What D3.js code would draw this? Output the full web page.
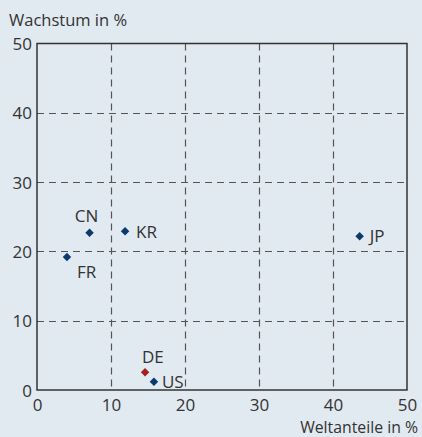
<!DOCTYPE html>
<html><head><meta charset="utf-8">
<script src="https://cdn.jsdelivr.net/npm/d3@7"></script>
<style>
html,body{margin:0;padding:0;background:#e1e9f1;}
svg{display:block;font-family:"Open Sans",sans-serif;}
</style></head>
<body>
<svg id="chart" width="422" height="437"></svg>
<script>
const countries = ["CN","KR","FR","JP","DE","US"];
const worldShare = [7.1, 11.9, 4.05, 43.6, 14.6, 15.8];
const growth = [22.7, 22.9, 19.2, 22.2, 2.55, 1.2];
const xTicks = [0,10,20,30,40,50];
const yTicks = [0,10,20,30,40,50];
const highlight = ["DE"];

const svg = d3.select("#chart");
const m = {left:37, right:407, top:43.5, bottom:390};
const x = d3.scaleLinear().domain([0,50]).range([m.left, m.right]);
const y = d3.scaleLinear().domain([0,50]).range([m.bottom, m.top]);

// dashed grid
const grid = svg.append("g").attr("stroke","#555").attr("stroke-width",1.2).attr("stroke-dasharray","7,5");
grid.selectAll(".gx").data(xTicks.slice(1,-1)).join("line")
  .attr("x1",d=>Math.round(x(d))+0.5).attr("x2",d=>Math.round(x(d))+0.5)
  .attr("y1",m.top).attr("y2",m.bottom);
grid.selectAll(".gy").data(yTicks.slice(1,-1)).join("line")
  .attr("y1",d=>Math.round(y(d))+0.5).attr("y2",d=>Math.round(y(d))+0.5)
  .attr("x1",m.left).attr("x2",m.right);

// frame
svg.append("rect").attr("x",m.left).attr("y",m.top)
  .attr("width",m.right-m.left).attr("height",m.bottom-m.top)
  .attr("fill","none").attr("stroke","#333").attr("stroke-width",1.5);

// axes (labels only)
const xAxis = svg.append("g").attr("transform",`translate(0,${m.bottom})`)
  .call(d3.axisBottom(x).tickValues(xTicks).tickSize(0).tickPadding(5));
const yAxis = svg.append("g").attr("transform",`translate(${m.left},0)`)
  .call(d3.axisLeft(y).tickValues(yTicks).tickSize(0).tickPadding(5));
[xAxis,yAxis].forEach(a=>{
  a.select(".domain").remove();
  a.selectAll("text").attr("font-size",17).attr("fill","#333").attr("font-family","'Open Sans',sans-serif");
});
xAxis.selectAll("text").attr("dy","0.95em");
yAxis.selectAll("text").attr("dy","0.36em");

svg.append("text").attr("x",9).attr("y",26).attr("font-size",16.5).attr("fill","#333").text("Wachstum in %");
svg.append("text").attr("x",418).attr("y",432.5).attr("text-anchor","end").attr("font-size",15.8).attr("fill","#333").text("Weltanteile in %");

// label offsets relative to each marker
const labelDx = {CN:-3, KR:11, FR:10, JP:10, DE:-3, US:8};
const labelDy = {CN:-11, KR:7, FR:21, JP:6, DE:-9, US:6};
const labelAnchor = {CN:"middle", KR:"start", FR:"start", JP:"start", DE:"start", US:"start"};

const pts = countries.map((c,i)=>({c, xv:worldShare[i], yv:growth[i]}));
const diamond = d3.symbol().type(d3.symbolDiamond2).size(46);
svg.append("g").selectAll("path").data(pts).join("path")
  .attr("d",diamond)
  .attr("transform",d=>`translate(${x(d.xv)},${y(d.yv)})`)
  .attr("fill",d=>highlight.includes(d.c)?"#a3201f":"#0c3a6c");
svg.append("g").selectAll("text").data(pts).join("text")
  .attr("x",d=>x(d.xv)+labelDx[d.c])
  .attr("y",d=>y(d.yv)+labelDy[d.c])
  .attr("text-anchor",d=>labelAnchor[d.c])
  .attr("font-size",17).attr("fill","#333")
  .text(d=>d.c);
</script>
</body></html>
